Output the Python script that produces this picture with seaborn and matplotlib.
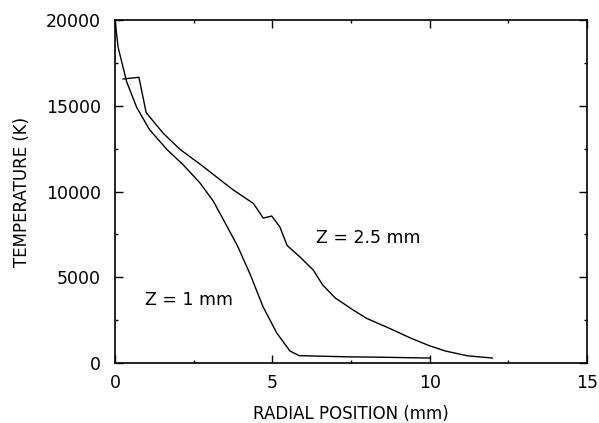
import matplotlib
matplotlib.use("Agg")
import matplotlib.pyplot as plt
from matplotlib.ticker import MultipleLocator
import numpy as np
import pandas as pd
import seaborn as sns

# Radial temperature profiles at two axial positions
z1_r = [0, 0.1, 0.37, 0.69, 1.1, 1.65, 2.17, 2.7, 3.12, 3.55, 3.9, 4.3, 4.7,
        5.14, 5.56, 5.85, 6.5, 7.4, 8.4, 10.0]
z1_T = [20000, 18400, 16400, 14900, 13600, 12450, 11550, 10500, 9450, 8000,
        6800, 5150, 3300, 1750, 700, 430, 400, 360, 340, 290]

z25_r = [0.25, 0.76, 0.99, 1.53, 2.07, 2.7, 3.4, 3.76, 4.4, 4.71, 4.98, 5.24,
         5.47, 5.88, 6.3, 6.6, 7.0, 7.57, 8.0, 8.7, 9.4, 10.0, 10.5, 11.2, 12.0]
z25_T = [16560, 16660, 14600, 13400, 12450, 11600, 10600, 10090, 9300, 8450,
         8570, 7930, 6850, 6180, 5420, 4550, 3790, 3090, 2600, 2040, 1450,
         1000, 700, 420, 290]

series_labels = ["Z = 1 mm", "Z = 2.5 mm"]
x_ticks = [0, 5, 10, 15]
y_ticks = [0, 5000, 10000, 15000, 20000]

df = pd.concat([
    pd.DataFrame({"r": z1_r, "T": z1_T, "z": series_labels[0]}),
    pd.DataFrame({"r": z25_r, "T": z25_T, "z": series_labels[1]}),
])

sns.set_style("ticks")
plt.rcParams["font.family"] = ["DejaVu Sans"]
plt.rcParams["text.color"] = "black"
plt.rcParams["axes.labelcolor"] = "black"
plt.rcParams["xtick.color"] = "black"
plt.rcParams["ytick.color"] = "black"

fig = plt.figure(figsize=(5.99, 4.23), dpi=100)
ax = fig.add_axes([0.192, 0.1418, 0.788, 0.8109])

sns.lineplot(data=df, x="r", y="T", units="z", estimator=None, sort=False,
             color="black", linewidth=1.0, ax=ax, legend=False)

ax.set_xlim(0, 15)
ax.set_ylim(0, 20000)
ax.set_xticks(x_ticks)
ax.set_yticks(y_ticks)
ax.xaxis.set_minor_locator(MultipleLocator(2.5))
ax.yaxis.set_minor_locator(MultipleLocator(2500))
ax.tick_params(which="both", direction="in", top=True, right=True,
               color="black", width=1.0)
ax.tick_params(which="major", length=6, labelsize=12.5)
ax.tick_params(axis="y", which="major", pad=10)
ax.tick_params(axis="x", which="major", pad=8)
ax.tick_params(which="minor", length=2.5)
for s in ax.spines.values():
    s.set_linewidth(1.2)
    s.set_color("black")

ax.set_xlabel("RADIAL POSITION (mm)", fontsize=12, labelpad=9)
ax.set_ylabel("TEMPERATURE (K)", fontsize=12, labelpad=11)

ax.text(6.39, 7290, series_labels[1], fontsize=12.5, va="center", ha="left")
ax.text(0.95, 3670, series_labels[0], fontsize=12.5, va="center", ha="left")

fig.savefig("out.png", dpi=100)
